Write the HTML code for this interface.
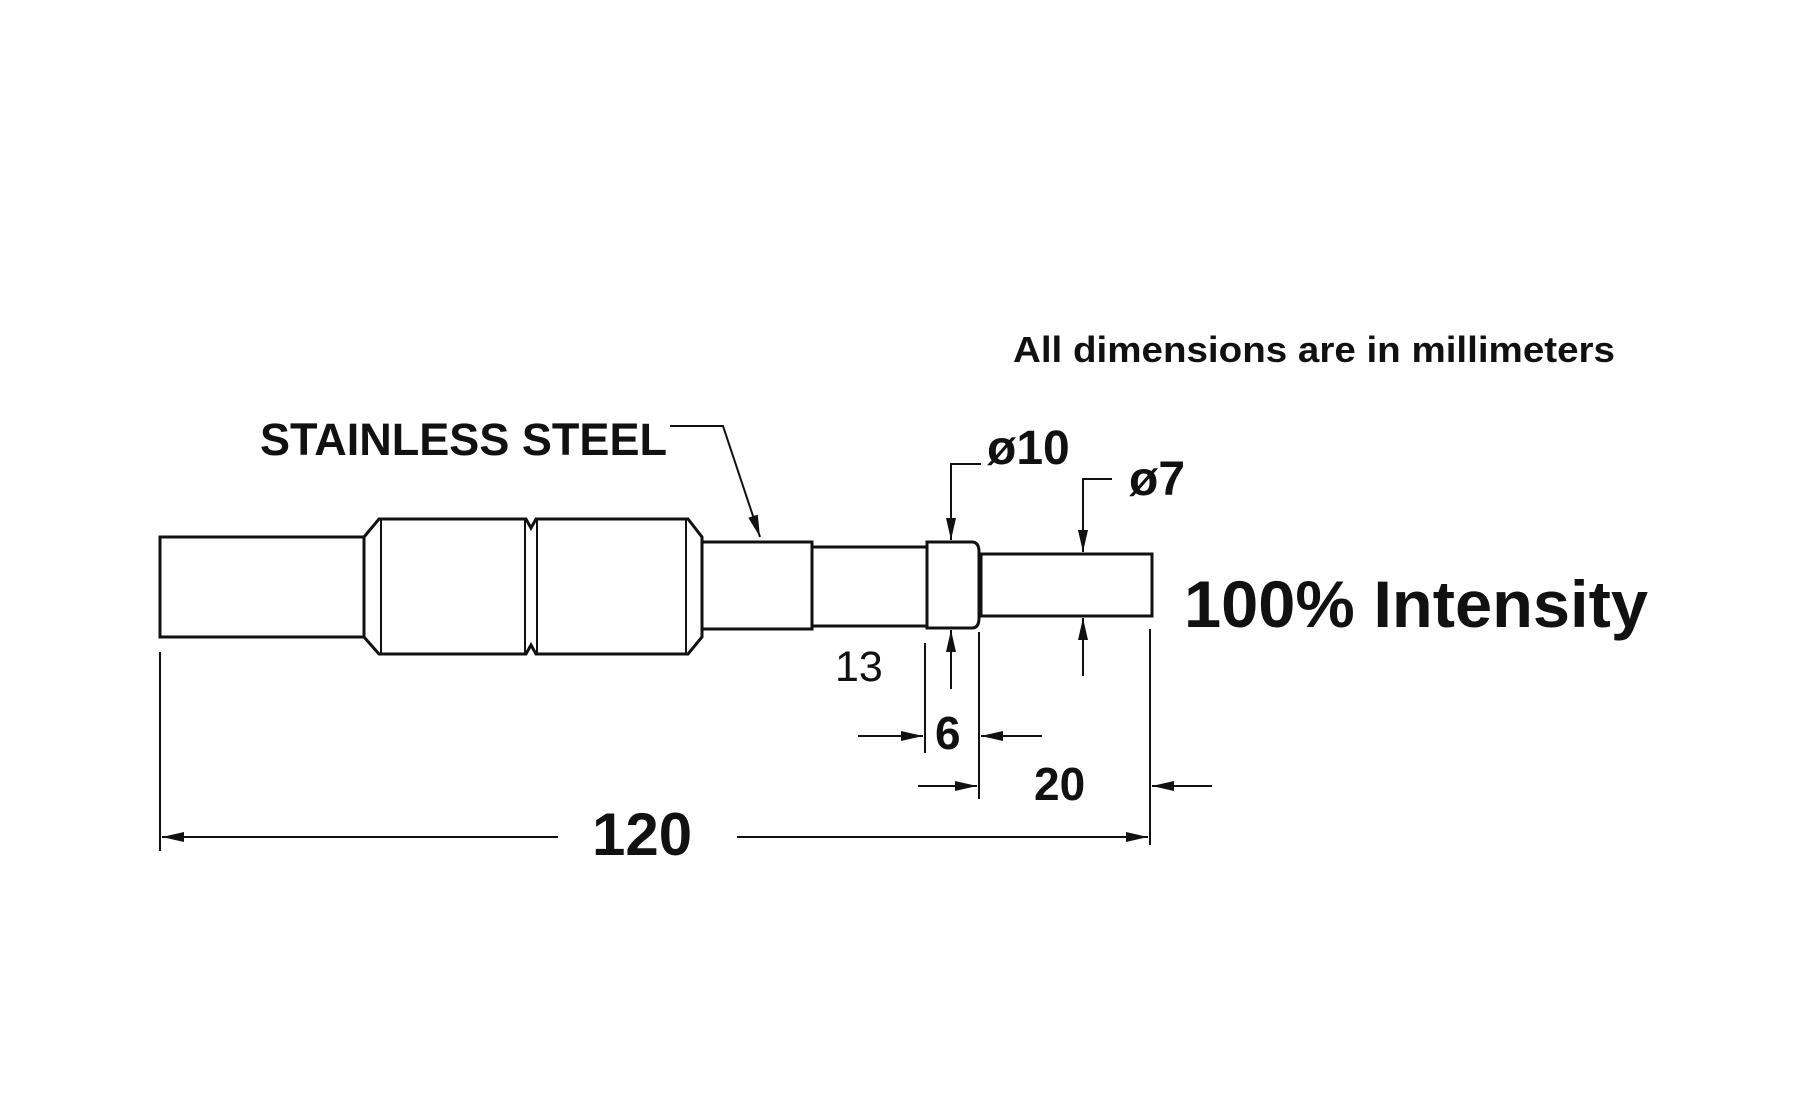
<!DOCTYPE html>
<html><head><style>html,body{margin:0;padding:0;background:#fff;}svg{display:block}</style></head>
<body>
<svg width="1800" height="1100" viewBox="0 0 1800 1100" xmlns="http://www.w3.org/2000/svg" font-family="Liberation Sans, sans-serif" font-weight="bold" fill="#111">
<defs>
<marker id="b" viewBox="0 0 22 12" refX="22" refY="6" markerWidth="22" markerHeight="12" markerUnits="userSpaceOnUse" orient="auto"><path d="M0,1 L22,6 L0,11 z" fill="#111"/></marker>
</defs>
<g transform="translate(-2,-3)">
<g stroke="#111" stroke-width="3" fill="none">
<rect x="162" y="540" width="204" height="100"/>
<path d="M366,540 L381,522 L528,522 L533,531 L538,522 L690,522 L704,540 L704,640 L690,657 L538,657 L533,648 L528,657 L381,657 L366,640"/>
<line x1="383" y1="522" x2="383" y2="657" stroke-width="2"/>
<line x1="527" y1="522" x2="527" y2="657" stroke-width="2"/>
<line x1="539" y1="522" x2="539" y2="657" stroke-width="2"/>
<line x1="688" y1="522" x2="688" y2="657" stroke-width="2"/>
<rect x="704" y="545" width="110" height="87"/>
<rect x="814" y="550" width="115" height="79"/>
<path d="M929,545 L974,545 Q981,545 981,555 L981,621 Q981,631 974,631 L929,631 Z"/>
<rect x="983" y="557" width="171" height="62"/>
<path d="M672,429 L725,429 L762,540" stroke-width="2" marker-end="url(#b)"/>
<path d="M983,467 L953,467 L953,543" stroke-width="2" marker-end="url(#b)"/>
<path d="M1114,482 L1085,482 L1085,555" stroke-width="2" marker-end="url(#b)"/>
<line x1="1085" y1="679" x2="1085" y2="621" stroke-width="2" marker-end="url(#b)"/>
<line x1="953" y1="692" x2="953" y2="633" stroke-width="2" marker-end="url(#b)"/>
<line x1="927" y1="646" x2="927" y2="756" stroke-width="2"/>
<line x1="981" y1="635" x2="981" y2="802" stroke-width="2"/>
<line x1="1152" y1="632" x2="1152" y2="848" stroke-width="2"/>
<line x1="162" y1="655" x2="162" y2="854" stroke-width="2"/>
<line x1="860" y1="739" x2="925" y2="739" stroke-width="2" marker-end="url(#b)"/>
<line x1="1044" y1="739" x2="983" y2="739" stroke-width="2" marker-end="url(#b)"/>
<line x1="920" y1="789" x2="979" y2="789" stroke-width="2" marker-end="url(#b)"/>
<line x1="1214" y1="789" x2="1154" y2="789" stroke-width="2" marker-end="url(#b)"/>
<line x1="560" y1="840" x2="164" y2="840" stroke-width="2" marker-end="url(#b)"/>
<line x1="739" y1="840" x2="1150" y2="840" stroke-width="2" marker-end="url(#b)"/>
</g>
<text x="1015" y="365" font-size="36" textLength="602" lengthAdjust="spacingAndGlyphs">All dimensions are in millimeters</text>
<text x="262" y="458" font-size="45" textLength="407" lengthAdjust="spacingAndGlyphs">STAINLESS STEEL</text>
<text x="989" y="467" font-size="48">ø10</text>
<text x="1131" y="498" font-size="48">ø7</text>
<text x="1186" y="630" font-size="66" textLength="464" lengthAdjust="spacingAndGlyphs">100% Intensity</text>
<text x="837" y="684" font-size="43" font-weight="normal">13</text>
<text x="937" y="752" font-size="46">6</text>
<text x="1036" y="803" font-size="46">20</text>
<text x="594" y="858" font-size="60">120</text>
</g>
</svg>
</body></html>
